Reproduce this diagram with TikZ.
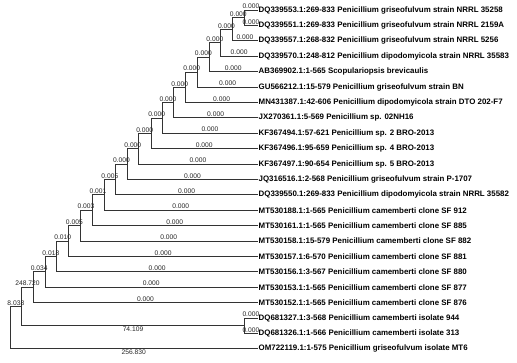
\documentclass[tikz,border=0pt]{standalone}
\usepackage{fontspec}
\setmainfont{Liberation Sans}
\usetikzlibrary{calc}

\tikzset{
  leaf/.style={anchor=west,inner sep=1pt,font=\fontsize{7.9}{8}\selectfont\bfseries},
  blen/.style={above,pos=0.75,inner sep=0.8pt,text=black!85,font=\fontsize{6.7}{7}\selectfont},
  blenb/.style={blen,below},
  branch/.style={line width=0.7pt,draw=black!80}
}

\begin{document}
\begin{tikzpicture}[x=1pt,y=-1pt]
\useasboundingbox (0,0) rectangle (517,363);
% taxa
\foreach \i/\txt in {1/DQ339553.1:269-833 Penicillium griseofulvum strain NRRL 35258,
  2/DQ339551.1:269-833 Penicillium griseofulvum strain NRRL 2159A,
  3/DQ339557.1:268-832 Penicillium griseofulvum strain NRRL 5256,
  4/DQ339570.1:248-812 Penicillium dipodomyicola strain NRRL 35583,
  5/AB369902.1:1-565 Scopulariopsis brevicaulis,
  6/GU566212.1:15-579 Penicillium griseofulvum strain BN,
  7/MN431387.1:42-606 Penicillium dipodomyicola strain DTO 202-F7,
  8/JX270361.1:5-569 Penicillium sp. 02NH16,
  9/KF367494.1:57-621 Penicillium sp. 2 BRO-2013,
  10/KF367496.1:95-659 Penicillium sp. 4 BRO-2013,
  11/KF367497.1:90-654 Penicillium sp. 5 BRO-2013,
  12/JQ316516.1:2-568 Penicillium griseofulvum strain P-1707,
  13/DQ339550.1:269-833 Penicillium dipodomyicola strain NRRL 35582,
  14/MT530188.1:1-565 Penicillium camemberti clone SF 912,
  15/MT530161.1:1-565 Penicillium camemberti clone SF 885,
  16/MT530158.1:15-579 Penicillium camemberti clone SF 882,
  17/MT530157.1:6-570 Penicillium camemberti clone SF 881,
  18/MT530156.1:3-567 Penicillium camemberti clone SF 880,
  19/MT530153.1:1-565 Penicillium camemberti clone SF 877,
  20/MT530152.1:1-565 Penicillium camemberti clone SF 876,
  21/DQ681327.1:3-568 Penicillium camemberti isolate 944,
  22/DQ681326.1:1-566 Penicillium camemberti isolate 313,
  23/OM722119.1:1-575 Penicillium griseofulvum isolate MT6}
  \node[leaf] (L\i) at (257.5,{10+(\i-1)*15.4}) {\txt};
% internal nodes
\coordinate (A1) at (244.3,17.7);
\coordinate (A2) at (232.3,29.25);
\coordinate (A3) at (220.7,42.73);
\coordinate (A4) at (209,57.16);
\coordinate (A5) at (197.7,72.08);
\coordinate (A6) at (185.7,87.24);
\coordinate (A7) at (173.7,102.52);
\coordinate (A8) at (162.3,117.86);
\coordinate (A9) at (151,133.23);
\coordinate (A10) at (138.3,148.62);
\coordinate (A11) at (127.3,164.01);
\coordinate (A12) at (115.7,179.4);
\coordinate (A13) at (104,194.8);
\coordinate (A14) at (92,210.2);
\coordinate (A15) at (80,225.6);
\coordinate (A16) at (68.7,241);
\coordinate (A17) at (56.7,256.4);
\coordinate (A18) at (45,271.8);
\coordinate (A19) at (33.3,287.2);
\coordinate (B) at (244.3,325.7);
\coordinate (A20) at (21.7,306.45);
\coordinate (R) at (10,327.6);
% branches
\draw[branch] (A1) |- node[blen]{0.000} (L1.west);
\draw[branch] (A1) |- node[blen]{0.000} (L2.west);
\foreach \k/\lab [remember=\k as \j (initially 1), evaluate=\k as \c using int(\k+1)]
  in {2/0.000,3/0.000,4/0.000,5/0.000,6/0.000,7/0.000,8/0.000,9/0.000,10/0.000,
      11/0.000,12/0.000,13/0.005,14/0.001,15/0.003,16/0.005,17/0.010,18/0.018,19/0.034}{
  \draw[branch] (A\k) |- node[blen]{\lab} (A\j);
  \draw[branch] (A\k) |- node[blen]{0.000} (L\c.west);
}
\draw[branch] (B) |- node[blen]{0.000} (L21.west);
\draw[branch] (B) |- node[blen]{0.000} (L22.west);
\draw[branch] (A20) |- node[blen]{248.720} (A19);
\draw[branch] (A20) |- node[blenb]{74.109} (B);
\draw[branch] (R) |- node[blen]{8.038} (A20);
\draw[branch] (R) |- node[blenb]{256.830} (L23.west);
\end{tikzpicture}
\end{document}
